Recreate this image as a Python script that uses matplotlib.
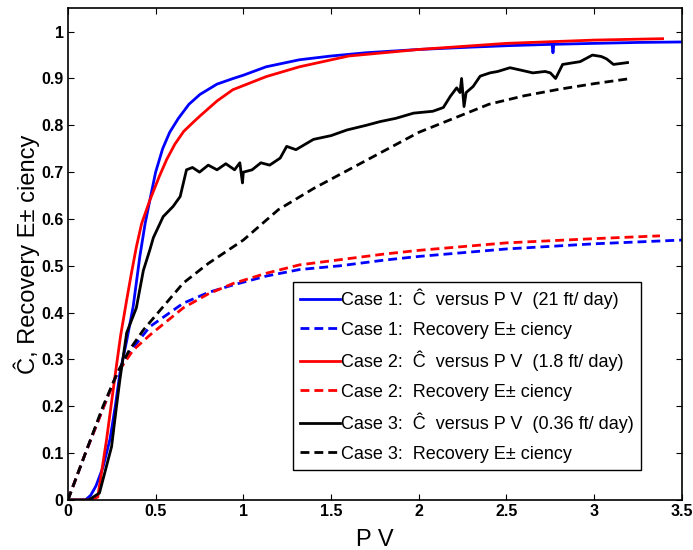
import numpy as np
import matplotlib
matplotlib.use('Agg')
import matplotlib.pyplot as plt

plt.rcParams['font.family'] = ['Liberation Sans', 'DejaVu Sans']

# Case 1 (21 ft/day)
pv_c1 = [0, 0.10, 0.13, 0.16, 0.20, 0.24, 0.27, 0.296, 0.335, 0.372, 0.41, 0.44, 0.467, 0.50, 0.54, 0.58,
         0.63, 0.69, 0.753, 0.85, 0.942, 1.0, 1.13, 1.32, 1.5, 1.7, 2.0, 2.3, 2.5, 2.76, 2.765, 2.77, 3.0, 3.25, 3.5]
c_c1 = [0, 0, 0.01, 0.03, 0.07, 0.13, 0.2, 0.27, 0.34, 0.413, 0.52, 0.59, 0.64, 0.70, 0.75, 0.785,
        0.815, 0.845, 0.866, 0.888, 0.90, 0.907, 0.925, 0.94, 0.948, 0.955, 0.962, 0.967, 0.970, 0.973, 0.955, 0.973,
        0.975, 0.977, 0.978]
pv_r1 = [0, 0.1, 0.2, 0.28, 0.35, 0.467, 0.657, 0.8, 0.94, 1.13, 1.32, 1.55, 1.8, 2.0, 2.5, 3.0, 3.5]
rf_r1 = [0, 0.1, 0.195, 0.27, 0.315, 0.37, 0.42, 0.443, 0.459, 0.478, 0.492, 0.50, 0.512, 0.52, 0.536, 0.547, 0.555]

# Case 2 (1.8 ft/day)
pv_c2 = [0, 0.12, 0.17, 0.22, 0.268, 0.30, 0.335, 0.36, 0.39, 0.42, 0.467, 0.52, 0.563, 0.61, 0.66, 0.71,
         0.753, 0.85, 0.94, 1.13, 1.32, 1.6, 2.0, 2.5, 3.0, 3.39]
c_c2 = [0, 0, 0.006, 0.128, 0.263, 0.35, 0.427, 0.48, 0.54, 0.59, 0.64, 0.69, 0.727, 0.76, 0.787, 0.805,
        0.82, 0.852, 0.876, 0.904, 0.925, 0.948, 0.962, 0.975, 0.982, 0.985]
pv_r2 = [0, 0.1, 0.2, 0.28, 0.372, 0.467, 0.657, 0.8, 0.94, 1.13, 1.32, 1.55, 1.8, 2.0, 2.5, 3.0, 3.375]
rf_r2 = [0, 0.1, 0.195, 0.27, 0.32, 0.352, 0.41, 0.44, 0.462, 0.484, 0.502, 0.513, 0.525, 0.533, 0.549, 0.558, 0.564]

# Case 3 (0.36 ft/day)
pv_c3 = [0, 0.12, 0.18, 0.249, 0.277, 0.296, 0.335, 0.39, 0.43, 0.467, 0.487, 0.543, 0.6, 0.64, 0.676, 0.71,
         0.75, 0.8, 0.85, 0.9, 0.95, 0.98, 0.995, 1.0, 1.05, 1.1, 1.15, 1.21, 1.247, 1.3, 1.4, 1.5, 1.59,
         1.7, 1.78, 1.87, 1.97, 2.08, 2.14, 2.18, 2.216, 2.235, 2.244, 2.258, 2.27, 2.31, 2.35, 2.406, 2.45,
         2.52, 2.58, 2.65, 2.72, 2.75, 2.78, 2.82, 2.92, 2.99, 3.04, 3.07, 3.11, 3.15, 3.19]
c_c3 = [0, 0, 0.015, 0.114, 0.2, 0.256, 0.357, 0.41, 0.49, 0.534, 0.56, 0.605, 0.627, 0.648, 0.705, 0.71,
        0.70, 0.715, 0.705, 0.718, 0.705, 0.72, 0.677, 0.70, 0.705, 0.72, 0.715, 0.73, 0.755, 0.748, 0.77, 0.778, 0.79,
        0.80, 0.808, 0.815, 0.826, 0.83, 0.838, 0.862, 0.88, 0.87, 0.90, 0.84, 0.87, 0.883, 0.905, 0.912, 0.915,
        0.923, 0.918, 0.912, 0.915, 0.912, 0.90, 0.93, 0.936, 0.95, 0.947, 0.942, 0.93, 0.932, 0.934]
pv_r3 = [0, 0.1, 0.2, 0.28, 0.35, 0.43, 0.657, 0.8, 1.0, 1.2, 1.4, 1.6, 1.8, 2.0, 2.2, 2.4, 2.6, 2.8, 3.0, 3.19]
rf_r3 = [0, 0.1, 0.2, 0.27, 0.32, 0.363, 0.463, 0.505, 0.555, 0.62, 0.665, 0.705, 0.745, 0.785, 0.815,
         0.845, 0.863, 0.877, 0.889, 0.899]

fig = plt.figure(figsize=(6.93, 5.5), dpi=100)
ax = fig.add_axes([0.098, 0.091, 0.886, 0.894])

lw = 2
dash = (3.2, 1.8)
ax.plot(pv_c1, c_c1, color='#0000ff', linewidth=lw, label='Case 1:  Ĉ  versus P V  (21 ft/ day)')
ax.plot(pv_r1, rf_r1, color='#0000ff', linewidth=lw, dashes=dash, label='Case 1:  Recovery E± ciency')
ax.plot(pv_c2, c_c2, color='#ff0000', linewidth=lw, label='Case 2:  Ĉ  versus P V  (1.8 ft/ day)')
ax.plot(pv_r2, rf_r2, color='#ff0000', linewidth=lw, dashes=dash, label='Case 2:  Recovery E± ciency')
ax.plot(pv_c3, c_c3, color='black', linewidth=lw, label='Case 3:  Ĉ  versus P V  (0.36 ft/ day)')
ax.plot(pv_r3, rf_r3, color='black', linewidth=lw, dashes=dash, label='Case 3:  Recovery E± ciency')

ax.set_xlim(0, 3.5)
ax.set_ylim(0, 1.05)
ax.set_xticks([0, 0.5, 1, 1.5, 2, 2.5, 3, 3.5])
ax.set_xticklabels(['0', '0.5', '1', '1.5', '2', '2.5', '3', '3.5'])
ax.set_yticks(np.arange(0, 11) / 10)
ax.set_yticklabels(['0', '0.1', '0.2', '0.3', '0.4', '0.5', '0.6', '0.7', '0.8', '0.9', '1'])
ax.tick_params(direction='in', top=True, right=True, length=4, width=0.8, labelsize=11.5, pad=3)
for t in ax.get_xticklabels() + ax.get_yticklabels():
    t.set_fontweight('bold')
for s in ax.spines.values():
    s.set_linewidth(1.2)

ax.set_xlabel('P V', fontsize=17, labelpad=7)
ax.set_ylabel('Ĉ, Recovery E± ciency', fontsize=17, labelpad=1)

leg = ax.legend(loc='lower left', bbox_to_anchor=(0.366, 0.061), borderaxespad=0, fontsize=13,
                handlelength=2.2, handletextpad=0.1, labelspacing=0.68, fancybox=False,
                edgecolor='black', framealpha=1, borderpad=0.4)
leg.get_frame().set_linewidth(1.0)

fig.savefig('out.png', dpi=100)
